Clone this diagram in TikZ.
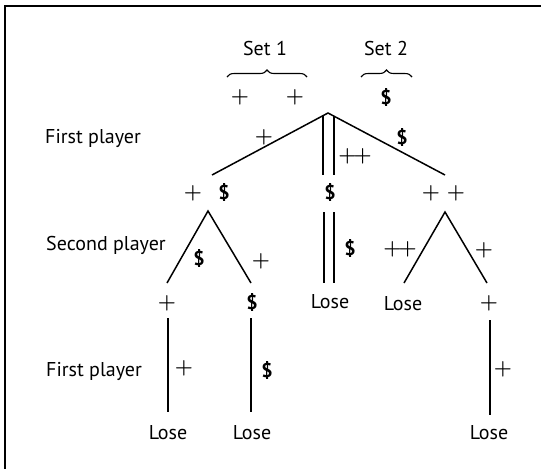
\documentclass[tikz,border=0pt]{standalone}
\usepackage{fontspec}
\setmainfont{PT Sans}
\usetikzlibrary{decorations.pathreplacing}
\newcommand{\pl}{{\boldmath$+$}}
\newcommand{\dl}{{\bfseries\$}}
\begin{document}
\begin{tikzpicture}[x=1pt,y=-1pt,
  lbl/.style={inner sep=0pt, font=\fontsize{20}{22}\selectfont},
  word/.style={lbl, anchor=base},
  edge/.style={line width=1.5pt},
  frameline/.style={line width=1.6pt},
  bracebar/.style={line width=1.1pt, decorate, decoration={brace, amplitude=7pt}}]
\useasboundingbox (0,0) rectangle (541,469);
% frame
\coordinate (ftr) at (541,6);
\coordinate (ftl) at (5,6);
\coordinate (fbl) at (5,469);
\draw[frameline] (ftr) -- (ftl) -- (fbl);

% headings
\node[lbl] (set1) at (265,48) {Set 1};
\node[lbl] (set2) at (386,48) {Set 2};
\coordinate (b1a) at (227,77); \coordinate (b1b) at (307,77);
\coordinate (b2a) at (361,77); \coordinate (b2b) at (412,77);
\draw[bracebar] (b1a) -- (b1b);
\draw[bracebar] (b2a) -- (b2b);
\node[lbl] (s1p1) at (240,97) {\pl};
\node[lbl] (s1p2) at (295,97) {\pl};
\node[lbl] (s2d) at (386,97) {\dl};

% player labels
\node[word] (fp1) at (93,143) {First player};
\node[word] (sp) at (106,250) {Second player};
\node[word] (fp2) at (94,376) {First player};

% level 1
\coordinate (root) at (328,113);
\coordinate (l1) at (212,175);
\coordinate (r1) at (445,175);
\coordinate (m1a) at (323,116); \coordinate (m1b) at (323,175);
\coordinate (m2a) at (334,116); \coordinate (m2b) at (334,175);
\draw[edge] (l1) -- (root) -- (r1);
\draw[edge] (m1a) -- (m1b);
\draw[edge] (m2a) -- (m2b);
\node[lbl] (e1) at (264,137) {\pl};
\node[lbl] (e2) at (402,137) {\dl};
\node[lbl] (e3) at (355,156) {\pl\kern-3pt\pl};

% level 2 labels
\node[lbl] (n1a) at (193,193) {\pl};
\node[lbl] (n1b) at (224,192) {\dl};
\node[lbl] (n2) at (330,192) {\dl};
\node[lbl] (n3a) at (431,193) {\pl};
\node[lbl] (n3b) at (456,193) {\pl};

% left subtree
\coordinate (A) at (208,211);
\coordinate (Al) at (167,283);
\coordinate (Ar) at (251,283);
\draw[edge] (Al) -- (A) -- (Ar);
\node[lbl] (a1) at (199,258) {\dl};
\node[lbl] (a2) at (261,261) {\pl};

% middle
\coordinate (c1a) at (324,212); \coordinate (c1b) at (324,283);
\coordinate (c2a) at (334,212); \coordinate (c2b) at (334,283);
\draw[edge] (c1a) -- (c1b);
\draw[edge] (c2a) -- (c2b);
\node[lbl] (c3) at (350,248) {\dl};

% right subtree
\coordinate (B) at (445,212);
\coordinate (Bl) at (404,283);
\coordinate (Br) at (487,283);
\draw[edge] (Bl) -- (B) -- (Br);
\node[lbl] (b1) at (400,249) {\pl\kern-3pt\pl};
\node[lbl] (b2) at (484,250) {\pl};

% level 3
\node[lbl] (t1) at (167,303) {\pl};
\node[lbl] (t2) at (252,302) {\dl};
\node[lbl] (t3) at (330,302) {Lose};
\node[lbl] (t4) at (403,304) {Lose};
\node[lbl] (t5) at (489,303) {\pl};

\coordinate (v1a) at (168,318); \coordinate (v1b) at (168,412);
\coordinate (v2a) at (251,318); \coordinate (v2b) at (251,412);
\coordinate (v3a) at (490,320); \coordinate (v3b) at (490,415);
\draw[edge] (v1a) -- (v1b);
\draw[edge] (v2a) -- (v2b);
\draw[edge] (v3a) -- (v3b);
\node[lbl] (f1) at (184,368) {\pl};
\node[lbl] (f2) at (267,370) {\dl};
\node[lbl] (f3) at (503,369) {\pl};

\node[lbl] (z1) at (168,433) {Lose};
\node[lbl] (z2) at (252,433) {Lose};
\node[lbl] (z3) at (489,433) {Lose};
\end{tikzpicture}
\end{document}
